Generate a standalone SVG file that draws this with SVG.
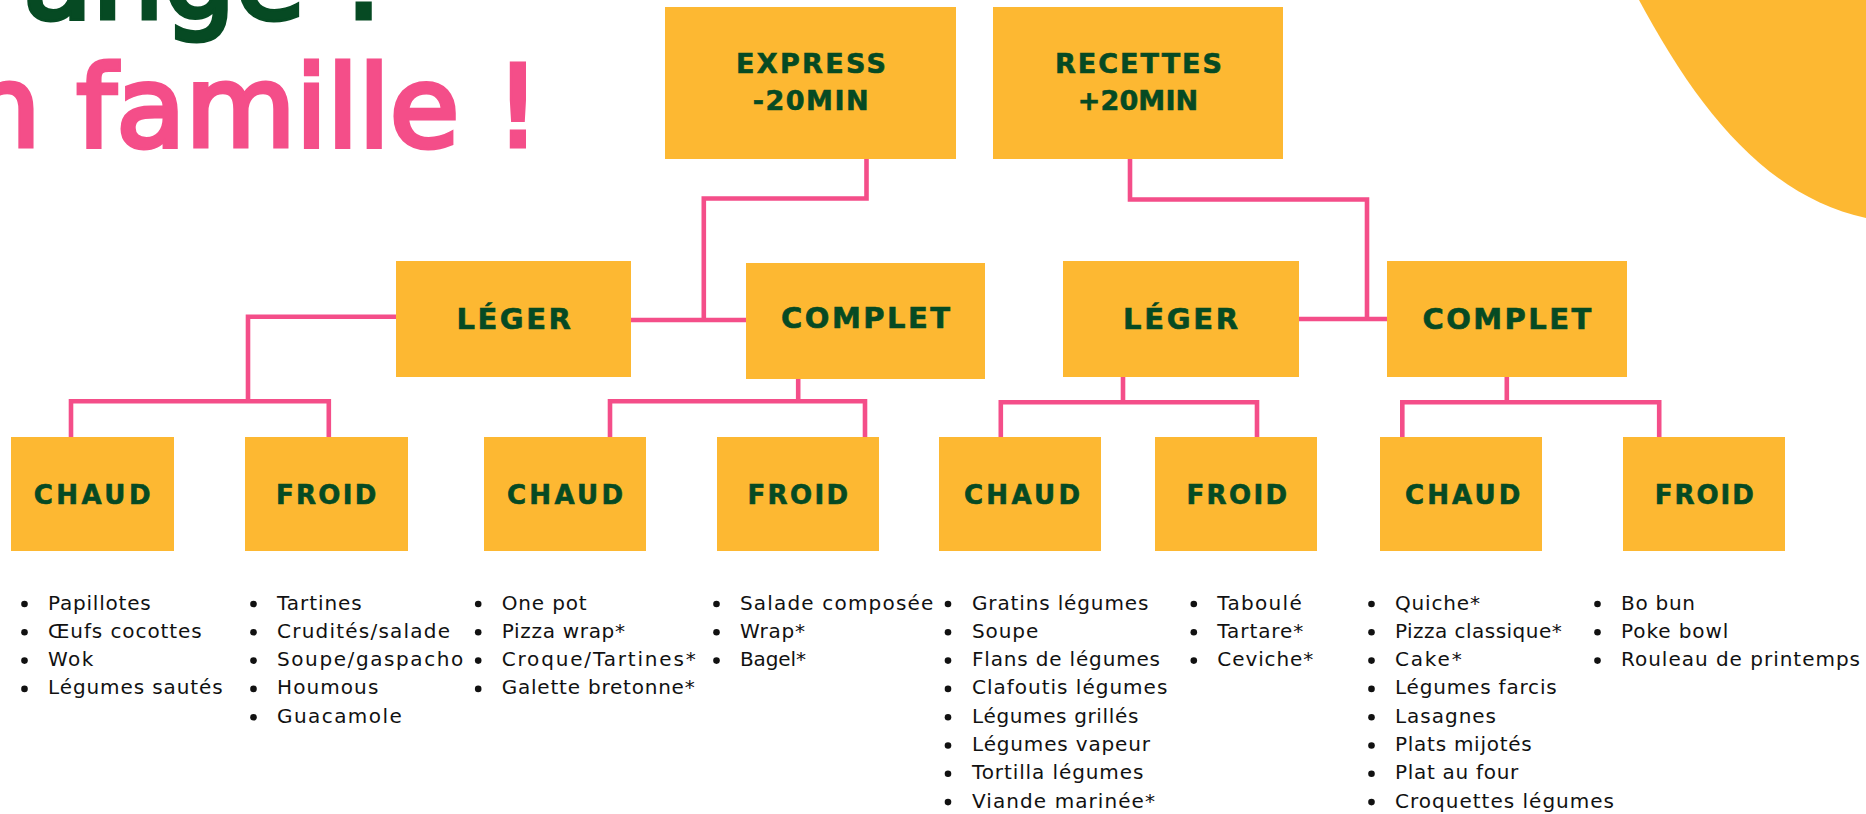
<svg xmlns="http://www.w3.org/2000/svg" width="1866" height="814" viewBox="0 0 1866 814">
<style>
.box{fill:#fdb832}
.lbl{font-family:"DejaVu Sans","Liberation Sans",sans-serif;font-weight:bold;fill:#064a23;stroke:#064a23;stroke-width:0.6}
.l27{font-size:27px}.l29{font-size:29px}.l26{font-size:26px}
.conn{fill:none;stroke:#f44e89;stroke-width:4.6;stroke-linejoin:miter;stroke-linecap:butt}
.li{font-family:"DejaVu Sans","Liberation Sans",sans-serif;font-size:20px;fill:#111}
.dot{fill:#111}
.title{font-family:"DejaVu Sans","Liberation Sans",sans-serif;font-size:113px;stroke-width:5;paint-order:stroke}
</style>
<rect width="1866" height="814" fill="#ffffff"/>
<g id="blob"><path d="M1639,0 C1697,108 1765,196 1866,218 L1866,0 Z" fill="#fdb832"/></g>
<g id="title">
<text class="title" x="23" y="18.3" fill="#064a23" stroke="#064a23">ange !</text>
<text class="title" x="-31" y="145.7" fill="#f44e89" stroke="#f44e89">n famille !</text>
</g>
<g id="connectors">
<polyline class="conn" points="866.5,159 866.5,198.5 703.8,198.5 703.8,320"/>
<line class="conn" x1="631" y1="320" x2="746" y2="320"/>
<polyline class="conn" points="396,316.7 248,316.7 248,401.3"/>
<polyline class="conn" points="71,437 71,401.3 328.8,401.3 328.8,437"/>
<line class="conn" x1="798.2" y1="378.7" x2="798.2" y2="401.3"/>
<polyline class="conn" points="610,437 610,401.3 865,401.3 865,437"/>
<polyline class="conn" points="1130,159 1130,199.5 1367,199.5 1367,319"/>
<line class="conn" x1="1299" y1="319" x2="1387" y2="319"/>
<line class="conn" x1="1123" y1="376.7" x2="1123" y2="402.3"/>
<polyline class="conn" points="1000.8,437 1000.8,402.3 1257,402.3 1257,437"/>
<line class="conn" x1="1506.8" y1="376.7" x2="1506.8" y2="402.3"/>
<polyline class="conn" points="1402.3,437 1402.3,402.3 1659.2,402.3 1659.2,437"/>
</g>
<g id="express"><rect class="box" x="665" y="7" width="291" height="152"/>
<text class="lbl l27" x="736" y="72.7" textLength="150">EXPRESS</text>
<text class="lbl l27" x="752.7" y="110" textLength="116">-20MIN</text></g>
<g id="recettes"><rect class="box" x="993" y="7" width="290" height="152"/>
<text class="lbl l27" x="1055" y="72.7" textLength="167">RECETTES</text>
<text class="lbl l27" x="1077.7" y="110" textLength="120.5">+20MIN</text></g>
<g id="leger1"><rect class="box" x="396" y="261" width="235" height="116"/>
<text class="lbl l29" x="456.6" y="329.3" textLength="114.2">LÉGER</text></g>
<g id="complet1"><rect class="box" x="746" y="263" width="239" height="116"/>
<text class="lbl l29" x="781" y="328.3" textLength="169">COMPLET</text></g>
<g id="leger2"><rect class="box" x="1063" y="261" width="236" height="116"/>
<text class="lbl l29" x="1123" y="329" textLength="115.2">LÉGER</text></g>
<g id="complet2"><rect class="box" x="1387" y="261" width="240" height="116"/>
<text class="lbl l29" x="1422.4" y="329" textLength="168.8">COMPLET</text></g>
<g id="chaud1"><rect class="box" x="11" y="437" width="163" height="114"/>
<text class="lbl l26" x="33.8" y="504" textLength="116.7">CHAUD</text></g>
<g id="froid1"><rect class="box" x="245" y="437" width="163" height="114"/>
<text class="lbl l26" x="276" y="504" textLength="100.3">FROID</text></g>
<g id="chaud2"><rect class="box" x="484" y="437" width="162" height="114"/>
<text class="lbl l26" x="507" y="504" textLength="116">CHAUD</text></g>
<g id="froid2"><rect class="box" x="717" y="437" width="162" height="114"/>
<text class="lbl l26" x="747.4" y="504" textLength="100.8">FROID</text></g>
<g id="chaud3"><rect class="box" x="939" y="437" width="162" height="114"/>
<text class="lbl l26" x="964" y="504" textLength="116">CHAUD</text></g>
<g id="froid3"><rect class="box" x="1155" y="437" width="162" height="114"/>
<text class="lbl l26" x="1186.5" y="504" textLength="100.5">FROID</text></g>
<g id="chaud4"><rect class="box" x="1380" y="437" width="162" height="114"/>
<text class="lbl l26" x="1405" y="504" textLength="115.4">CHAUD</text></g>
<g id="froid4"><rect class="box" x="1623" y="437" width="162" height="114"/>
<text class="lbl l26" x="1654.7" y="504" textLength="99.2">FROID</text></g>
<g id="list1">
<circle class="dot" cx="24.5" cy="604" r="3.3"/><text class="li" x="48" y="609.5" textLength="102.7">Papillotes</text>
<circle class="dot" cx="24.5" cy="632.3" r="3.3"/><text class="li" x="48" y="637.8" textLength="153.7">Œufs cocottes</text>
<circle class="dot" cx="24.5" cy="660.6" r="3.3"/><text class="li" x="48" y="666.1" textLength="45.3">Wok</text>
<circle class="dot" cx="24.5" cy="688.9" r="3.3"/><text class="li" x="48" y="694.4" textLength="174.7">Légumes sautés</text>
</g>
<g id="list2">
<circle class="dot" cx="253.5" cy="604" r="3.3"/><text class="li" x="277" y="609.5" textLength="84.7">Tartines</text>
<circle class="dot" cx="253.5" cy="632.3" r="3.3"/><text class="li" x="277" y="637.8" textLength="173">Crudités/salade</text>
<circle class="dot" cx="253.5" cy="660.6" r="3.3"/><text class="li" x="277" y="666.1" textLength="186.3">Soupe/gaspacho</text>
<circle class="dot" cx="253.5" cy="688.9" r="3.3"/><text class="li" x="277" y="694.4" textLength="101.3">Houmous</text>
<circle class="dot" cx="253.5" cy="717.2" r="3.3"/><text class="li" x="277" y="722.7" textLength="124.7">Guacamole</text>
</g>
<g id="list3">
<circle class="dot" cx="478.2" cy="604" r="3.3"/><text class="li" x="501.7" y="609.5" textLength="85">One pot</text>
<circle class="dot" cx="478.2" cy="632.3" r="3.3"/><text class="li" x="501.7" y="637.8" textLength="123.3">Pizza wrap*</text>
<circle class="dot" cx="478.2" cy="660.6" r="3.3"/><text class="li" x="501.7" y="666.1" textLength="194">Croque/Tartines*</text>
<circle class="dot" cx="478.2" cy="688.9" r="3.3"/><text class="li" x="501.7" y="694.4" textLength="193">Galette bretonne*</text>
</g>
<g id="list4">
<circle class="dot" cx="716.5" cy="604" r="3.3"/><text class="li" x="740" y="609.5" textLength="193.3">Salade composée</text>
<circle class="dot" cx="716.5" cy="632.3" r="3.3"/><text class="li" x="740" y="637.8" textLength="65">Wrap*</text>
<circle class="dot" cx="716.5" cy="660.6" r="3.3"/><text class="li" x="740" y="666.1" textLength="66">Bagel*</text>
</g>
<g id="list5">
<circle class="dot" cx="948" cy="604" r="3.3"/><text class="li" x="972" y="609.5" textLength="176.3">Gratins légumes</text>
<circle class="dot" cx="948" cy="632.3" r="3.3"/><text class="li" x="972" y="637.8" textLength="66.3">Soupe</text>
<circle class="dot" cx="948" cy="660.6" r="3.3"/><text class="li" x="972" y="666.1" textLength="188">Flans de légumes</text>
<circle class="dot" cx="948" cy="688.9" r="3.3"/><text class="li" x="972" y="694.4" textLength="195.3">Clafoutis légumes</text>
<circle class="dot" cx="948" cy="717.2" r="3.3"/><text class="li" x="972" y="722.7" textLength="166.3">Légumes grillés</text>
<circle class="dot" cx="948" cy="745.5" r="3.3"/><text class="li" x="972" y="751" textLength="178">Légumes vapeur</text>
<circle class="dot" cx="948" cy="773.8" r="3.3"/><text class="li" x="972" y="779.3" textLength="171.3">Tortilla légumes</text>
<circle class="dot" cx="948" cy="802.1" r="3.3"/><text class="li" x="972" y="807.6" textLength="183">Viande marinée*</text>
</g>
<g id="list6">
<circle class="dot" cx="1193.8" cy="604" r="3.3"/><text class="li" x="1217.3" y="609.5" textLength="84.4">Taboulé</text>
<circle class="dot" cx="1193.8" cy="632.3" r="3.3"/><text class="li" x="1217.3" y="637.8" textLength="86">Tartare*</text>
<circle class="dot" cx="1193.8" cy="660.6" r="3.3"/><text class="li" x="1217.3" y="666.1" textLength="96">Ceviche*</text>
</g>
<g id="list7">
<circle class="dot" cx="1371.5" cy="604" r="3.3"/><text class="li" x="1395" y="609.5" textLength="85">Quiche*</text>
<circle class="dot" cx="1371.5" cy="632.3" r="3.3"/><text class="li" x="1395" y="637.8" textLength="166.7">Pizza classique*</text>
<circle class="dot" cx="1371.5" cy="660.6" r="3.3"/><text class="li" x="1395" y="666.1" textLength="66.7">Cake*</text>
<circle class="dot" cx="1371.5" cy="688.9" r="3.3"/><text class="li" x="1395" y="694.4" textLength="161.7">Légumes farcis</text>
<circle class="dot" cx="1371.5" cy="717.2" r="3.3"/><text class="li" x="1395" y="722.7" textLength="101">Lasagnes</text>
<circle class="dot" cx="1371.5" cy="745.5" r="3.3"/><text class="li" x="1395" y="751" textLength="136.7">Plats mijotés</text>
<circle class="dot" cx="1371.5" cy="773.8" r="3.3"/><text class="li" x="1395" y="779.3" textLength="123.3">Plat au four</text>
<circle class="dot" cx="1371.5" cy="802.1" r="3.3"/><text class="li" x="1395" y="807.6" textLength="219">Croquettes légumes</text>
</g>
<g id="list8">
<circle class="dot" cx="1597.5" cy="604" r="3.3"/><text class="li" x="1621" y="609.5" textLength="74">Bo bun</text>
<circle class="dot" cx="1597.5" cy="632.3" r="3.3"/><text class="li" x="1621" y="637.8" textLength="107.3">Poke bowl</text>
<circle class="dot" cx="1597.5" cy="660.6" r="3.3"/><text class="li" x="1621" y="666.1" textLength="239">Rouleau de printemps</text>
</g>
</svg>
